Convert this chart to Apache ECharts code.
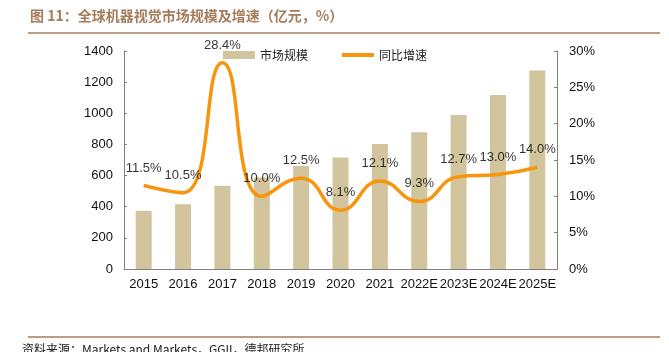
<!DOCTYPE html>
<html>
<head>
<meta charset="utf-8">
<script src="https://cdn.jsdelivr.net/npm/echarts@6/dist/echarts.min.js"></script>
<style>
  html, body { margin: 0; padding: 0; background: #fff; }
  #main { width: 669px; height: 352px; }
</style>
</head>
<body>
<div id="main"></div>
<script>
    // 年份
    var years = ['2015', '2016', '2017', '2018', '2019', '2020', '2021', '2022E', '2023E', '2024E', '2025E'];
    // 市场规模（亿元）
    var marketSize = [374, 416, 535, 588, 662, 716, 803, 878, 989, 1118, 1274];
    // 同比增速（%）
    var growth = [11.5, 10.5, 28.4, 10.0, 12.5, 8.1, 12.1, 9.3, 12.7, 13.0, 14.0];

    var brown = '#a57c5a';
    var orange = '#f7960e';
    var myChart = echarts.init(document.getElementById('main'));

    var option = {
        animation: false,
        textStyle: { fontFamily: 'Liberation Sans, Arial, sans-serif' },
        graphic: [
            {
                type: 'text', left: 30, top: 9,
                style: {
                    text: '图 11：全球机器视觉市场规模及增速（亿元，%）',
                    fill: brown, font: 'bold 14px "Noto Sans CJK SC"'
                }
            },
            {
                type: 'line', shape: { x1: 28, y1: 33, x2: 660, y2: 33 },
                style: { stroke: brown, lineWidth: 1.5 }
            },
            {
                type: 'line', shape: { x1: 28, y1: 337, x2: 660, y2: 337 },
                style: { stroke: brown, lineWidth: 1.5 }
            },
            {
                type: 'text', left: 22, top: 343,
                style: {
                    text: '资料来源：Markets and Markets，GGII，德邦研究所',
                    fill: '#222', font: '12px "Noto Sans CJK SC"'
                }
            }
        ],
        legend: {
            left: 218, top: 44,
            itemWidth: 32, itemHeight: 8, itemGap: 32,
            textStyle: { fontFamily: 'Noto Sans CJK SC', fontSize: 12, color: '#222' },
            data: [
                { name: '市场规模', icon: 'rect' },
                {
                    name: '同比增速',
                    itemStyle: { opacity: 0 },
                    lineStyle: { width: 4, color: orange }
                }
            ]
        },
        grid: { left: 124, right: 112, top: 51, bottom: 83 },
        xAxis: {
            type: 'category',
            data: years,
            axisLine: { lineStyle: { color: '#808080' } },
            axisTick: { inside: true, length: 3, lineStyle: { color: '#808080' } },
            axisLabel: { color: '#111', fontSize: 13, margin: 9, interval: 0 }
        },
        yAxis: [
            {
                type: 'value', min: 0, max: 1400, interval: 200,
                axisLine: { show: true, lineStyle: { color: '#808080' } },
                axisTick: { show: true, inside: true, length: 3, lineStyle: { color: '#808080' } },
                axisLabel: {
                    color: '#111', fontSize: 13, margin: 11,
                    formatter: function (v) { return String(v); }
                },
                splitLine: { show: false }
            },
            {
                type: 'value', min: 0, max: 30, interval: 5,
                axisLine: { show: true, lineStyle: { color: '#808080' } },
                axisTick: { show: true, inside: true, length: 3, lineStyle: { color: '#808080' } },
                axisLabel: { color: '#111', fontSize: 13, margin: 12, formatter: '{value}%' },
                splitLine: { show: false }
            }
        ],
        series: [
            {
                name: '市场规模',
                type: 'bar',
                data: marketSize,
                barWidth: 16,
                itemStyle: { color: '#d2c49c' }
            },
            {
                name: '同比增速',
                type: 'line',
                yAxisIndex: 1,
                data: growth,
                smooth: 0.5,
                symbol: 'none',
                lineStyle: { color: orange, width: 3.5 },
                itemStyle: { color: orange },
                z: 5
            },
            {
                // 数据标签
                name: 'labels',
                type: 'scatter',
                yAxisIndex: 1,
                data: growth,
                symbolSize: 0,
                silent: true,
                label: {
                    show: true, position: 'top', distance: 11,
                    color: '#000', fontSize: 13,
                    formatter: function (p) { return p.value.toFixed(1) + '%'; }
                },
                z: 6
            }
        ]
    };
    myChart.setOption(option);
</script>
</body>
</html>
